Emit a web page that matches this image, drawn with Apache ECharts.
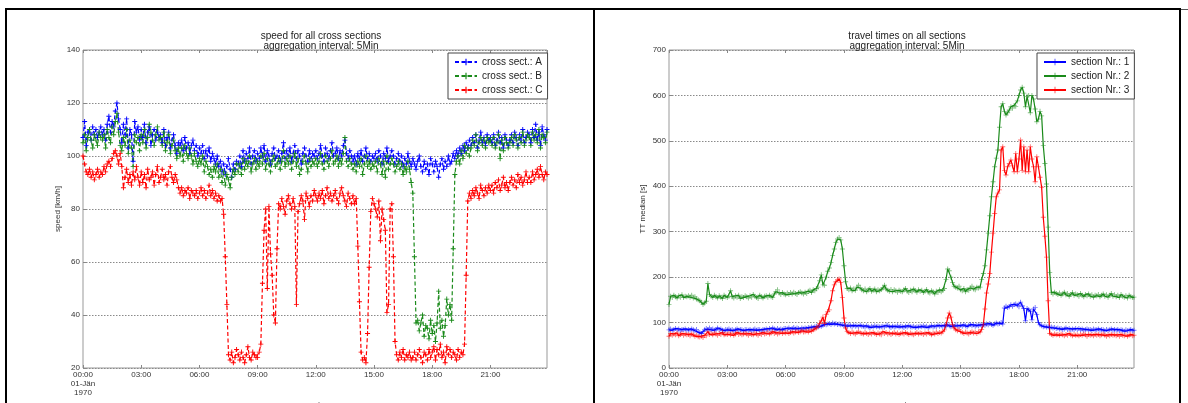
<!DOCTYPE html>
<html><head><meta charset="utf-8">
<script src="https://cdn.jsdelivr.net/npm/echarts@6/dist/echarts.min.js"></script>
<style>
html,body{margin:0;padding:0;background:#fff;width:1188px;height:403px;overflow:hidden}
#c{position:absolute;left:0;top:0;width:1188px;height:403px}
</style>
</head><body><div id="c"></div>
<script>
// time categories: minutes since midnight (5-min aggregation, 288 slots)
const times = [];
for (let i = 0; i < 288; i++) times.push(i * 5);
const xTickLabels = ['00:00\n01-Jän\n1970','03:00','06:00','09:00','12:00','15:00','18:00','21:00'];
const speedTicks = [20,40,60,80,100,120,140];
const ttTicks = [0,100,200,300,400,500,600,700];

// speed [km/h], cross section A
const speedA = [
107,113,104,109,110,106,111,108,110,107,109,111,
108,110,106,112,115,109,113,111,117,120,114,110,
105,112,108,114,103,110,108,98,113,109,111,106,
110,107,112,105,109,111,104,108,110,106,109,107,
108,105,110,104,107,109,103,106,108,104,101,105,
104,106,102,107,103,105,101,104,106,102,104,100,
103,101,104,99,102,100,103,98,101,99,97,100,
96,98,94,97,93,96,99,95,92,97,95,98,
97,100,96,102,98,101,99,103,97,100,102,98,
101,99,103,100,104,98,102,100,97,101,103,99,
100,102,98,101,105,99,102,100,103,98,101,104,
99,102,100,97,101,103,100,98,102,99,101,100,
102,99,101,104,100,98,103,101,99,102,105,100,
101,103,99,102,100,104,106,101,99,102,100,98,
100,97,101,99,102,98,100,103,99,101,98,100,
99,101,98,102,100,97,101,99,103,98,100,102,
100,97,99,101,98,100,96,99,97,101,98,96,
99,97,95,98,100,96,94,98,95,97,93,99,
97,94,98,96,92,97,99,95,98,96,100,97,
98,101,99,102,100,103,101,104,102,105,103,106,
104,107,105,108,103,106,109,105,107,104,108,106,
107,105,108,104,106,109,105,107,103,108,106,104,
106,108,105,109,107,104,108,106,110,105,107,109,
108,105,110,107,112,106,109,104,111,108,106,110];
// speed [km/h], cross section B
const speedB = [
105,108,102,107,110,106,103,108,106,104,109,107,
106,108,103,110,107,105,111,108,113,116,109,104,
102,107,104,110,101,106,103,96,108,105,107,102,
108,105,110,103,107,112,109,106,104,108,111,106,
107,104,109,102,105,108,101,104,106,102,99,103,
100,103,98,104,101,99,103,100,97,101,98,96,
99,97,100,94,98,96,93,95,92,96,94,97,
92,95,90,94,89,93,91,88,92,95,93,97,
94,97,93,99,95,98,96,100,94,97,99,95,
98,96,100,97,101,95,99,97,94,98,100,96,
97,99,95,98,102,96,99,97,100,95,98,101,
96,99,93,95,98,100,97,94,99,96,98,97,
99,96,98,101,97,95,100,98,96,99,102,97,
98,100,96,99,97,101,107,98,96,99,97,95,
97,94,98,96,99,93,97,100,96,98,95,97,
96,98,94,99,97,93,98,92,100,95,97,99,
97,94,96,98,95,97,93,96,94,98,95,90,
86,62,37,38,34,37,40,32,36,35,31,38,
33,36,30,37,49,35,38,32,36,46,40,44,
38,65,93,98,100,97,102,99,104,101,103,100,
103,106,104,108,102,105,107,104,106,103,107,105,
106,104,107,103,105,108,99,106,102,107,105,103,
105,107,104,108,106,103,107,105,109,104,106,108,
107,104,109,106,108,105,110,103,108,107,105,109];
// speed [km/h], cross section C
const speedC = [
100,97,94,93,95,92,94,91,93,95,92,94,
93,96,94,97,98,96,99,101,102,100,97,101,
96,88,92,95,90,93,89,94,91,96,92,89,
94,90,93,88,95,91,92,94,89,93,96,90,
92,95,91,93,89,94,96,92,90,93,91,88,
86,88,85,87,86,88,84,87,86,85,87,84,
86,88,85,87,84,86,89,85,87,84,86,83,
85,83,84,78,62,44,25,23,26,22,24,27,
25,23,26,24,22,25,28,24,23,26,25,24,
24,26,29,52,72,80,50,81,63,55,40,37,
65,82,80,84,81,78,83,85,82,80,84,81,
44,79,82,85,83,76,86,84,81,85,83,87,
85,83,86,84,87,82,85,88,84,86,83,85,
87,84,82,86,88,85,83,81,86,84,82,85,
82,84,66,45,26,23,24,22,33,58,79,84,
82,80,77,83,68,80,76,72,41,44,80,82,
62,30,25,23,26,24,27,23,25,24,26,23,
24,26,23,25,27,24,22,26,25,23,27,24,
26,28,23,27,25,29,24,26,22,28,25,27,
24,26,25,23,27,24,26,25,29,55,83,86,
84,87,85,88,86,84,89,87,85,88,86,89,
87,89,86,90,88,91,87,89,92,88,90,87,
90,92,89,91,88,93,90,92,89,91,94,90,
92,90,94,91,93,95,92,96,93,91,94,93];

// travel time median [s], section 1
const tt1 = [
84,86,83,85,87,84,86,82,85,84,86,83,
85,83,86,84,82,85,79,78,76,80,84,87,
85,88,84,86,83,85,88,84,86,83,82,85,
84,86,83,85,82,84,86,83,85,84,82,85,
84,83,85,82,84,86,83,85,84,82,85,84,
86,84,87,85,88,86,84,87,85,86,84,87,
87,86,88,85,87,89,86,88,87,85,88,86,
88,87,89,88,90,89,91,92,90,93,92,94,
96,95,97,98,96,99,97,98,96,97,95,96,
93,94,92,95,93,91,94,92,93,91,94,92,
92,90,93,91,89,92,90,93,91,92,90,91,
92,90,93,94,91,89,92,90,91,93,90,92,
91,89,92,90,93,91,90,92,89,91,90,92,
91,93,90,92,89,91,93,90,92,91,94,92,
93,91,94,92,95,93,91,94,92,95,93,91,
94,92,95,93,91,94,96,93,95,92,94,93,
95,93,96,94,97,95,98,96,94,97,99,97,
98,100,97,132,136,133,135,139,136,140,141,138,
135,145,137,131,104,131,128,125,106,130,133,118,
100,95,93,91,92,90,91,89,90,88,89,87,
88,86,87,85,86,88,85,87,84,86,85,87,
85,87,84,86,83,85,86,84,85,83,86,84,
84,86,83,85,84,82,85,83,84,86,83,85,
83,85,82,84,83,81,84,82,83,85,82,83];
// travel time median [s], section 2
const tt2 = [
140,158,155,160,157,154,159,156,161,155,158,157,
159,156,160,154,157,152,150,148,145,140,143,147,
186,162,158,155,160,157,154,159,156,153,160,157,
155,158,170,157,154,159,156,160,153,157,155,159,
157,154,159,156,162,158,155,153,160,157,154,158,
159,156,160,157,155,163,168,172,165,162,166,163,
161,165,162,166,163,167,164,162,166,168,165,163,
167,164,169,171,166,172,170,175,178,192,205,183,
182,200,213,220,232,248,262,276,284,287,282,262,
225,190,175,172,176,170,174,171,178,182,176,172,
170,174,168,172,175,169,171,174,168,172,170,173,
176,182,174,171,169,173,168,172,170,167,171,169,
168,172,175,169,166,171,168,174,170,167,172,169,
171,166,169,173,167,165,170,168,163,169,166,172,
168,171,175,195,218,214,200,188,180,178,176,180,
172,170,175,168,173,171,176,180,174,172,178,176,
178,195,208,225,260,297,335,377,410,443,462,480,
530,575,582,565,557,562,568,575,572,578,576,588,
600,612,618,605,575,598,600,562,600,592,570,542,
548,565,555,490,450,405,310,210,166,163,167,164,
162,165,160,163,167,161,164,158,162,166,160,163,
161,158,164,160,157,162,159,163,158,161,156,160,
159,162,157,160,163,158,161,156,160,164,158,161,
157,160,155,162,158,156,159,154,160,157,155,156];
// travel time median [s], section 3
const tt3 = [
70,76,72,75,73,77,71,74,76,72,75,73,
74,71,75,73,70,72,69,68,70,67,72,71,
80,74,76,73,77,75,72,76,74,78,73,75,
74,77,73,76,72,75,78,74,76,73,75,77,
75,72,76,74,73,77,75,72,76,74,78,75,
76,79,75,77,80,76,78,75,77,79,76,78,
77,79,76,78,80,77,79,81,78,80,82,79,
80,82,79,83,81,84,86,88,92,98,104,112,
98,118,124,128,148,170,183,190,194,196,188,155,
110,88,80,78,76,79,77,75,78,80,77,76,
75,78,76,74,77,75,78,76,74,77,75,73,
80,76,78,75,77,74,76,78,75,77,74,76,
77,75,78,76,74,77,75,73,76,78,75,77,
76,74,77,75,78,76,73,77,75,79,76,78,
77,80,84,95,110,121,112,96,88,84,82,85,
80,78,76,79,77,75,78,80,77,79,76,80,
79,85,95,130,165,185,208,255,297,340,377,385,
392,480,487,435,425,443,450,458,445,432,472,432,
460,502,435,487,432,480,432,487,460,443,410,465,
443,420,398,332,290,244,148,76,74,72,75,73,
74,72,75,73,71,74,72,76,73,71,74,72,
73,71,74,72,75,73,70,74,72,73,71,74,
72,74,71,73,75,72,70,73,71,74,72,73,
71,73,70,74,72,71,73,70,72,74,71,72];

const FONT = '"Liberation Sans", Arial, sans-serif';
const BLUE = '#0000ff', GREEN = '#1a8a1a', RED = '#ff0000';
const PLUS = 'path://M0,4.1H10V5.9H0ZM4.1,0H5.9V10H4.1Z';
const pair = arr => times.map((t, i) => [t, arr[i]]);

function xAx(gi, top) {
  return {
    type: 'value', gridIndex: gi, min: 0, max: 1435, interval: 180,
    position: top ? 'top' : 'bottom',
    name: top ? '' : 'Zeit', nameLocation: 'middle', nameGap: 22,
    nameTextStyle: {fontFamily: FONT, fontSize: 9, color: '#333', verticalAlign: 'top', padding: [8, 0, 0, 0]},
    axisLine: {show: false},
    axisTick: {show: true, inside: true, length: 3, lineStyle: {color: '#888'}},
    axisLabel: top ? {show: false} : {
      show: true, fontFamily: FONT, fontSize: 8, color: '#333', margin: 2, lineHeight: 9,
      showMaxLabel: false,
      formatter: v => xTickLabels[Math.round(v / 180)] || ''
    },
    splitLine: {show: false}
  };
}
function yAx(gi, ticks, name, gap) {
  return {
    type: 'value', gridIndex: gi, min: ticks[0], max: ticks[ticks.length - 1],
    interval: ticks[1] - ticks[0],
    name: name, nameLocation: 'middle', nameGap: gap, nameRotate: 90,
    nameTextStyle: {fontFamily: FONT, fontSize: 8, color: '#333'},
    axisLine: {show: false},
    axisTick: {show: true, inside: true, length: 3, lineStyle: {color: '#888'}},
    axisLabel: {fontFamily: FONT, fontSize: 8, color: '#333', margin: 3},
    splitLine: {show: true, lineStyle: {type: [1.5, 1.5], color: '#8a8a8a', width: 1}}
  };
}
function speedSeries(name, data, color) {
  return {
    type: 'line', name, xAxisIndex: 0, yAxisIndex: 0, data: pair(data),
    symbol: PLUS, symbolSize: 5, showSymbol: true, showAllSymbol: true,
    lineStyle: {color, width: 1.2, type: [4, 2.5]},
    itemStyle: {color}, emphasis: {disabled: true}, animation: false
  };
}
function ttSeries(name, data, color) {
  return {
    type: 'line', name, xAxisIndex: 1, yAxisIndex: 1, data: pair(data),
    symbol: PLUS, symbolSize: 5, showSymbol: true, showAllSymbol: true,
    lineStyle: {color, width: 1.2},
    itemStyle: {color, opacity: 0.55}, emphasis: {disabled: true}, animation: false
  };
}
const legendBase = {
  orient: 'vertical', backgroundColor: '#fff', borderColor: '#444', borderWidth: 1,
  borderRadius: 0, padding: [4, 5, 4, 6], itemWidth: 22, itemHeight: 8, itemGap: 4,
  textStyle: {fontFamily: FONT, fontSize: 10, color: '#222'}
};
const gridBase = {top: 50, height: 318, show: true, borderColor: '#999', borderWidth: 1,
  backgroundColor: '#fff', containLabel: false, outerBoundsMode: 'none'};
const chart = echarts.init(document.getElementById('c'), null, {renderer: 'canvas', width: 1188, height: 403});
chart.setOption({
  backgroundColor: '#fff',
  animation: false,
  title: [
    {text: 'speed for all cross sections\naggregation interval: 5Min', left: 316, top: 26, textAlign: 'center',
     textStyle: {fontFamily: FONT, fontSize: 10, fontWeight: 'normal', color: '#222', lineHeight: 10}},
    {text: 'travel times on all sections\naggregation interval: 5Min', left: 902, top: 26, textAlign: 'center',
     textStyle: {fontFamily: FONT, fontSize: 10, fontWeight: 'normal', color: '#222', lineHeight: 10}}
  ],
  grid: [
    Object.assign({left: 83, width: 464}, gridBase),
    Object.assign({left: 669, width: 465}, gridBase)
  ],
  xAxis: [xAx(0, false), xAx(1, false), xAx(0, true), xAx(1, true)],
  yAxis: [yAx(0, speedTicks, 'speed [km/h]', 21), yAx(1, ttTicks, 'TT median [s]', 22)],
  legend: [
    Object.assign({}, legendBase, {left: 448, top: 53, data: ['cross sect.: A', 'cross sect.: B', 'cross sect.: C']}),
    Object.assign({}, legendBase, {left: 1037, top: 53, data: ['section Nr.: 1', 'section Nr.: 2', 'section Nr.: 3']})
  ],
  series: [
    speedSeries('cross sect.: A', speedA, BLUE),
    speedSeries('cross sect.: B', speedB, GREEN),
    speedSeries('cross sect.: C', speedC, RED),
    ttSeries('section Nr.: 1', tt1, BLUE),
    ttSeries('section Nr.: 2', tt2, GREEN),
    ttSeries('section Nr.: 3', tt3, RED)
  ],
  graphic: [
    {type: 'rect', shape: {x: 5, y: 8, width: 1176, height: 2}, style: {fill: '#000'}, silent: true},
    {type: 'rect', shape: {x: 1181, y: 9, width: 7, height: 1}, style: {fill: '#555'}, silent: true},
    {type: 'rect', shape: {x: 5, y: 8, width: 2, height: 395}, style: {fill: '#000'}, silent: true},
    {type: 'rect', shape: {x: 593, y: 8, width: 2, height: 395}, style: {fill: '#000'}, silent: true},
    {type: 'rect', shape: {x: 1179, y: 8, width: 2, height: 395}, style: {fill: '#000'}, silent: true}
  ]
});
</script></body></html>
